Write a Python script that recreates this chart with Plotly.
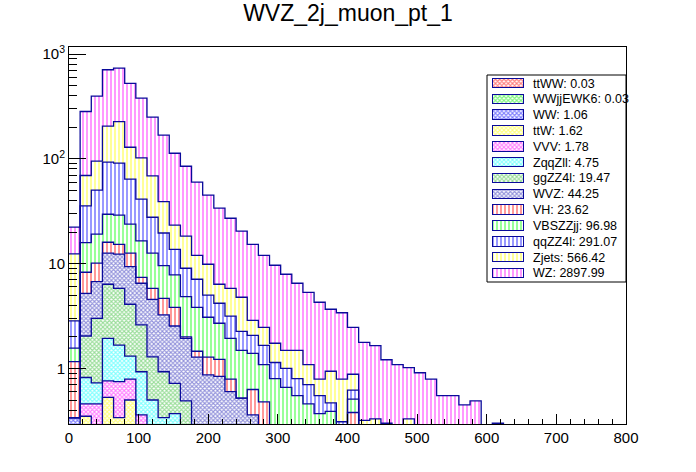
import numpy as np
import plotly.graph_objects as go

# 50 bins of 16 GeV between 0 and 800
bin_width = 16
n_bins = 50

# stack heights (cumulative top of each layer, per bin)
ttww_top = [0, 0.002, 0.003, 0.004, 0.003, 0.002, 0.002, 0.001]
wwjj_top = [0, 0.004, 0.006, 0.008, 0.007, 0.005, 0.004, 0.003, 0.002]
ww_top = [0.34, 0.2, 0.15, 0.2, 0.15, 0.15, 0.1, 0.08, 0.06, 0.05]
ttw_top = [0.34, 0.35, 0.25, 0.53, 0.34, 0.50, 0.2, 0.12, 0.1, 0.08]
vvv_top = [0.34, 0.46, 0.46, 0.76, 0.75, 0.79, 0.36, 0.2, 0.15, 0.12, 0.08]
zqq_top = [0.34, 0.82, 0.73, 1.94, 1.67, 1.31, 0.93, 0.50, 0.34, 0.37, 0.2, 0.12]
ggzz_top = [0.34, 2.04, 3.01, 6.36, 5.82, 4.10, 2.60, 1.29, 0.93, 0.72, 0.49, 0.26,
            0.2, 0.15, 0.1]
wvz_top = [0.34, 5.21, 6.73, 12.6, 12.3, 9.36, 6.5, 4.57, 3.24, 2.54, 1.94, 1.28,
           0.87, 0.84, 0.60, 0.52, 0.36, 0.25, 0.2, 0.15, 0.12, 0.1]
vh_top = [1.16, 8.28, 10.1, 16.0, 15.3, 12.6, 7.41, 5.82, 4.67, 3.83, 2.0, 1.46,
          1.28, 1.22, 0.79, 0.52, 0.63, 0.48, 0.22, 0.2, 0.17, 0.15, 0.12, 0.1,
          0.1, 0.38]
vbs_top = [1.56, 15.9, 19.1, 29.6, 29.0, 23.8, 16.5, 12.6, 9.57, 7.8, 4.84, 3.83,
           3.08, 2.70, 1.94, 1.49, 1.39, 1.09, 0.80, 0.66, 0.55, 0.46, 0.37, 0.39,
           0.2, 0.51, 0.15]
qqzz_top = [2.84, 35.6, 50.2, 93, 91, 64, 41.2, 27.7, 19.6, 13.7, 9.04, 7.1,
            5.0, 4.19, 3.15, 2.26, 2.07, 1.66, 1.14, 1.0, 0.80, 0.70, 0.55, 0.47,
            0.31, 0.62, 0.28, 0.2, 0.15]
zjets_top = [12.4, 69.3, 95, 205, 226, 129, 102, 68.8, 39, 23.3, 18.3, 12.0,
             9.87, 6.36, 5.82, 4.78, 2.88, 2.47, 1.74, 1.49, 1.49, 1.09, 0.79, 0.94,
             0.79, 0.88, 0.32, 0.33, 0.30, 0.2, 0.33]
wz_top = [22.3, 283, 397, 708, 735, 524, 380, 250, 168, 113, 85, 60,
          45, 33.8, 27.1, 20.4, 15.3, 12.0, 9.65, 7.92, 6.5, 5.33, 4.28, 3.67,
          3.40, 2.47, 1.77, 1.65, 1.21, 1.09, 1.02, 0.91, 0.79, 0.55, 0.55, 0.45,
          0.49, 0, 0.30]

# legend labels (bottom of stack first)
labels = ["ttWW: 0.03", "WWjjEWK6: 0.03", "WW: 1.06", "ttW: 1.62", "VVV: 1.78",
          "ZqqZll: 4.75", "ggZZ4l: 19.47", "WVZ: 44.25", "VH: 23.62",
          "VBSZZjj: 96.98", "qqZZ4l: 291.07", "Zjets: 566.42", "WZ: 2897.99"]

tops = [ttww_top, wwjj_top, ww_top, ttw_top, vvv_top, zqq_top, ggzz_top,
        wvz_top, vh_top, vbs_top, qqzz_top, zjets_top, wz_top]
colors = ["#ff0000", "#00ee00", "#0000ff", "#ffff00", "#ff00ff", "#00ffff",
          "#33bb33", "#2828b8", "#ff0000", "#00ff00", "#0000ff", "#ffff00",
          "#ff00ff"]
shapes = ["x"] * 8 + ["|"] * 5
outline = "#0a0a9a"


def full(a):
    arr = np.zeros(n_bins)
    arr[:len(a)] = a
    return arr


def pattern(shp, col):
    if shp == "|":
        return dict(shape="|", fgcolor=col, bgcolor="white", size=4, solidity=0.4)
    return dict(shape="x", fgcolor=col, bgcolor="white", size=3, solidity=0.6)


centers = np.arange(n_bins) * bin_width + bin_width / 2
edges = np.arange(n_bins + 1) * bin_width

fig = go.Figure()

prev = np.zeros(n_bins)
for lab, top, col, shp in zip(labels, tops, colors, shapes):
    t = full(top)
    h = np.clip(t - prev, 0, None)
    fig.add_trace(go.Bar(
        x=centers, y=h, width=bin_width, name=lab,
        marker=dict(color="white", pattern=pattern(shp, col), line=dict(width=0)),
        showlegend=False, hoverinfo="skip"
    ))
    prev = np.maximum(prev, t)

# step outlines of each histogram in the stack
for top in tops:
    t = full(top)
    t = np.where(t > 0, t, 1e-3)
    fig.add_trace(go.Scatter(
        x=edges, y=np.append(t, 1e-3), mode="lines", line_shape="hv",
        line=dict(color=outline, width=1.3), showlegend=False, hoverinfo="skip"
    ))

# ROOT-like legend box drawn on an inset axis (units = pixels inside the box)
leg_w, leg_h = 139, 207
row0, row_step = 8.5, 15.83
for i, (lab, col, shp) in enumerate(zip(labels, colors, shapes)):
    yc = row0 + i * row_step
    fig.add_trace(go.Bar(
        x=[31], y=[yc], base=[6], width=9.5, orientation="h",
        xaxis="x2", yaxis="y2",
        marker=dict(color="white", pattern=pattern(shp, col),
                    line=dict(color=outline, width=1)),
        showlegend=False, hoverinfo="skip"
    ))
    fig.add_annotation(x=44, y=yc, xref="x2", yref="y2", text=lab,
                       showarrow=False, xanchor="left", yanchor="middle",
                       font=dict(size=12.5, color="black"))

leg_x0 = (487 - 69) / 557
leg_y0 = (424 - 282) / 377
leg_y1 = (424 - 75) / 377
fig.add_shape(type="rect", xref="paper", yref="paper",
              x0=leg_x0, x1=1.0, y0=leg_y0, y1=leg_y1,
              line=dict(color="black", width=1), layer="above")

minor_y = [0.3, 0.4, 0.5, 0.6, 0.7, 0.8, 0.9, 2, 3, 4, 5, 6, 7, 8, 9,
           20, 30, 40, 50, 60, 70, 80, 90, 200, 300, 400, 500, 600, 700, 800, 900]

fig.update_layout(
    width=696, height=472,
    paper_bgcolor="white", plot_bgcolor="white",
    margin=dict(l=69, r=70, t=47, b=48, autoexpand=False),
    barmode="stack", bargap=0,
    font=dict(family="Liberation Sans, Arial, sans-serif", color="black"),
    title=dict(text="WVZ_2j_muon_pt_1", x=348 / 696, xanchor="center",
               xref="container", yref="container", y=0.973, yanchor="middle",
               font=dict(size=23)),
    showlegend=False,
    xaxis=dict(range=[0, 800], tickvals=list(range(0, 801, 100)),
               ticks="inside", ticklen=10, tickcolor="black",
               minor=dict(dtick=20, ticks="inside", ticklen=5, tickcolor="black"),
               showline=True, linecolor="black", linewidth=1, mirror=True,
               showgrid=False, zeroline=False, tickfont=dict(size=15)),
    yaxis=dict(type="log", range=[-0.53, 3.067],
               tickvals=[1, 10, 100, 1000],
               ticktext=["1", "10", "10<sup>2</sup>", "10<sup>3</sup>"],
               ticks="inside", ticklen=17, tickcolor="black",
               minor=dict(tickvals=minor_y, ticks="inside", ticklen=8,
                          tickcolor="black"),
               showline=True, linecolor="black", linewidth=1, mirror=True,
               showgrid=False, zeroline=False, tickfont=dict(size=15)),
    xaxis2=dict(domain=[leg_x0, 1.0], anchor="y2", range=[0, leg_w],
                visible=False, fixedrange=True),
    yaxis2=dict(domain=[leg_y0, leg_y1], anchor="x2", range=[leg_h, 0],
                visible=False, fixedrange=True),
)

# drop the default 8px page margin so the figure sits at the window corner
fig.write_html("out.html", config={"displayModeBar": False},
               post_script="document.body.style.margin='0';")
